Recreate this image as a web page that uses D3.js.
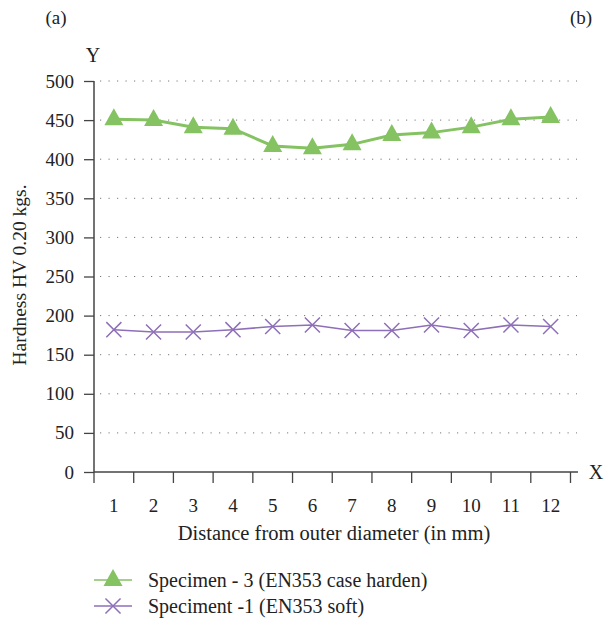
<!DOCTYPE html>
<html><head><meta charset="utf-8">
<script src="https://cdnjs.cloudflare.com/ajax/libs/d3/7.8.5/d3.min.js"></script>
<style>body{margin:0;background:#fff}svg{display:block}text{font-family:"Liberation Serif","DejaVu Serif",serif;fill:#222}</style>
</head><body>
<script>
const categories = [1,2,3,4,5,6,7,8,9,10,11,12];
const specimen3 = [451,450,441,439,417,414,419,431,434,441,451,454];
const specimen1 = [182,179,179,182,186,188,181,181,188,181,188,186];
const yTicks = [0,50,100,150,200,250,300,350,400,450,500];
const seriesNames = ["Specimen - 3 (EN353 case harden)", "Speciment -1 (EN353 soft)"];
const green = "#84c262", purple = "#8e6fb8";

const W = 608, H = 624;
const svg = d3.select("body").append("svg").attr("width", W).attr("height", H);
const x = d3.scaleBand().domain(categories).range([94, 570.5]);
const y = d3.scaleLinear().domain([0, 500]).range([472, 81]);

// grid
svg.append("g").selectAll("line").data(yTicks.filter(d => d > 0)).join("line")
  .attr("x1", 100).attr("x2", 577).attr("y1", d => y(d)).attr("y2", d => y(d))
  .attr("stroke", "#777").attr("stroke-width", 1).attr("stroke-dasharray", "1.2,7.3");

// y axis
const ya = svg.append("g").attr("transform", "translate(94,0)")
  .call(d3.axisLeft(y).tickValues(yTicks).tickSize(10).tickPadding(10));
ya.select(".domain").attr("stroke", "#444").attr("stroke-width", 1.5).attr("d", "M0,81V472");
ya.selectAll(".tick line").attr("stroke", "#444").attr("stroke-width", 1.3);
ya.selectAll("text").attr("font-size", 19).attr("font-family", "Liberation Serif").attr("fill", "#222");

// x axis
const xa = svg.append("g").attr("transform", "translate(0,472)")
  .call(d3.axisBottom(x).tickSize(0).tickPadding(27));
xa.select(".domain").attr("stroke", "#444").attr("stroke-width", 1.5).attr("d", "M94,0H578");
xa.selectAll("text").attr("font-size", 19).attr("font-family", "Liberation Serif").attr("fill", "#222");
const bounds = categories.map(c => x(c)).concat([x(12) + x.bandwidth()]);
xa.append("g").selectAll("line").data(bounds).join("line")
  .attr("x1", d => d).attr("x2", d => d).attr("y1", 0).attr("y2", 11)
  .attr("stroke", "#444").attr("stroke-width", 1.3);

svg.append("text").attr("x", 596).attr("y", 479).attr("text-anchor", "middle").attr("font-size", 20).text("X");
svg.append("text").attr("x", 93).attr("y", 62).attr("text-anchor", "middle").attr("font-size", 20).text("Y");
svg.append("text").attr("x", 56).attr("y", 24).attr("text-anchor", "middle").attr("font-size", 19).text("(a)");
svg.append("text").attr("x", 581).attr("y", 24).attr("text-anchor", "middle").attr("font-size", 19).text("(b)");
svg.append("text").attr("x", 334).attr("y", 540).attr("text-anchor", "middle").attr("font-size", 20.5).text("Distance from outer diameter (in mm)");
svg.append("text").attr("transform", "translate(26,275) rotate(-90)").attr("text-anchor", "middle").attr("font-size", 19.5).text("Hardness HV 0.20 kgs.");

const cx = (d, i) => x(categories[i]) + x.bandwidth() / 2;
const line = d3.line().x((d, i) => cx(d, i)).y(d => y(d));

// purple
svg.append("path").datum(specimen1).attr("d", line).attr("fill", "none").attr("stroke", purple).attr("stroke-width", 1.6);
const cross = d3.symbol().type(d3.symbolX).size(150);
svg.append("g").selectAll("path").data(specimen1).join("path")
  .attr("transform", (d, i) => `translate(${cx(d, i)},${y(d)})`)
  .attr("d", cross).attr("fill", "none").attr("stroke", purple).attr("stroke-width", 1.5);

// green
svg.append("path").datum(specimen3).attr("d", line).attr("fill", "none").attr("stroke", green).attr("stroke-width", 3);
const tri = "M0,-10L9.5,7L-9.5,7Z";
svg.append("g").selectAll("path").data(specimen3).join("path")
  .attr("transform", (d, i) => `translate(${cx(d, i)},${y(d) - 1})`)
  .attr("d", tri).attr("fill", green);

// legend
const lg = svg.append("g");
const ly = [580, 606];
lg.append("line").attr("x1", 94).attr("x2", 132).attr("y1", ly[0]).attr("y2", ly[0]).attr("stroke", green).attr("stroke-width", 1.5);
lg.append("path").attr("transform", `translate(113,${ly[0] - 1})`).attr("d", tri).attr("fill", green);
lg.append("line").attr("x1", 94).attr("x2", 132).attr("y1", ly[1]).attr("y2", ly[1]).attr("stroke", purple).attr("stroke-width", 1.5);
lg.append("path").attr("transform", `translate(113,${ly[1]})`).attr("d", cross).attr("fill", "none").attr("stroke", purple).attr("stroke-width", 1.5);
lg.selectAll("text").data(seriesNames).join("text")
  .attr("x", 148).attr("y", (d, i) => ly[i] + 7).attr("font-size", 20).text(d => d);
</script>
</body></html>
